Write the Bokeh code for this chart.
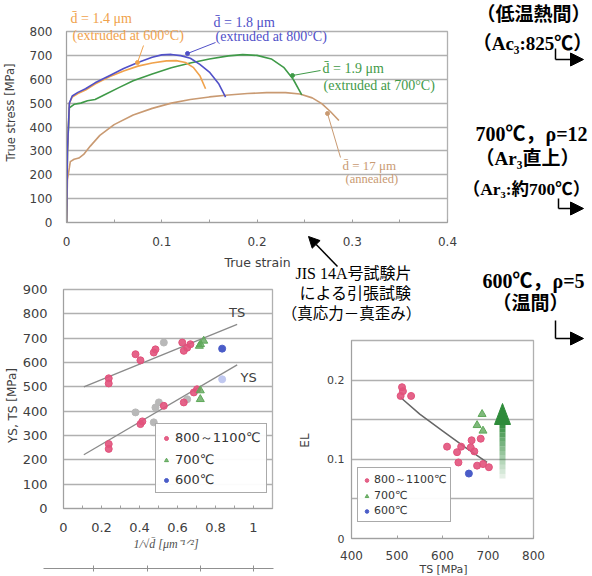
from bokeh.plotting import figure
from bokeh.models import (Range1d, FixedTicker, Label, Arrow, NormalHead, Legend, LegendItem,
                          GridBox, Column, CustomJSTickFormatter)
from bokeh.embed import file_html
from bokeh.resources import INLINE

# ---------------- data: true stress - true strain curves ----------------
strain_600 = [0, 0.001, 0.003, 0.006, 0.012, 0.02, 0.03, 0.045, 0.06, 0.075, 0.09, 0.105, 0.115, 0.125, 0.133, 0.14, 0.146]
stress_600 = [0, 300, 500, 525, 540, 555, 580, 610, 635, 655, 668, 677, 678, 670, 650, 615, 560]
strain_800 = [0, 0.001, 0.003, 0.006, 0.012, 0.02, 0.03, 0.045, 0.06, 0.075, 0.09, 0.1, 0.11, 0.12, 0.13, 0.14, 0.15, 0.16, 0.167]
stress_800 = [0, 300, 500, 530, 545, 560, 585, 615, 645, 670, 692, 702, 704, 699, 688, 662, 630, 580, 525]
strain_700 = [0, 0.001, 0.003, 0.008, 0.015, 0.022, 0.03, 0.04, 0.055, 0.07, 0.09, 0.11, 0.13, 0.15, 0.17, 0.185, 0.2, 0.215, 0.228, 0.238, 0.247]
stress_700 = [0, 300, 480, 495, 500, 510, 515, 535, 565, 594, 622, 648, 668, 685, 698, 703, 700, 685, 650, 600, 535]
strain_ann = [0, 0.001, 0.004, 0.008, 0.013, 0.018, 0.025, 0.035, 0.05, 0.07, 0.09, 0.11, 0.13, 0.15, 0.17, 0.19, 0.21, 0.23, 0.245, 0.258, 0.268, 0.277, 0.286]
stress_ann = [0, 180, 255, 265, 270, 285, 320, 365, 410, 450, 478, 500, 515, 526, 534, 540, 544, 544, 538, 522, 498, 465, 427]

# ---------------- data: YS, TS vs 1/sqrt(d) ----------------
ts_hot_x = [0.238, 0.238, 0.379, 0.405, 0.475, 0.484, 0.625, 0.633, 0.651, 0.668]
ts_hot_y = [535, 514, 634, 609, 641, 654, 682, 648, 661, 675]
ts_oth_x = [0.528]
ts_oth_y = [682]
ts_700_x = [0.715, 0.721, 0.738]
ts_700_y = [668, 675, 689]
ts_600_x = [0.835]
ts_600_y = [657]
ys_hot_x = [0.238, 0.238, 0.405, 0.415, 0.528, 0.633, 0.686, 0.703]
ys_hot_y = [265, 245, 347, 358, 422, 436, 477, 490]
ys_oth_x = [0.379, 0.475, 0.484, 0.502, 0.651]
ys_oth_y = [395, 354, 415, 436, 449]
ys_700_x = [0.72, 0.72]
ys_700_y = [485, 449]
ys_600_x = [0.835]
ys_600_y = [531]
ts_fit_x = [0.107, 0.914]
ts_fit_y = [500, 757]
ys_fit_x = [0.107, 0.914]
ys_fit_y = [221, 590]

# ---------------- data: EL vs TS ----------------
el_hot_ts = [511, 508, 531, 513, 610, 632, 635, 641, 662, 664, 670, 684, 676, 689, 702]
el_hot_el = [0.191, 0.180, 0.180, 0.186, 0.116, 0.109, 0.096, 0.116, 0.115, 0.124, 0.110, 0.126, 0.092, 0.094, 0.090]
el_700_ts = [687, 676, 689]
el_700_el = [0.157, 0.143, 0.136]
el_600_ts = [658]
el_600_el = [0.082]
el_fit_ts = [508, 550, 600, 650, 698]
el_fit_el = [0.178, 0.157, 0.136, 0.115, 0.096]

W, H = 592, 576
SANS = "DejaVu Sans"
SERIF = "Liberation Serif, Noto Sans CJK JP"
GRID = "#b0b0b0"
TICK = "#404040"
PINK = "#e2527c"
GREEN = "#5fa85a"
BLUE = "#4a5cc8"
GREY = "#b8b8b8"

fmt = CustomJSTickFormatter(code="return String(Math.round(tick*1000)/1000);")


def base(x_range, y_range, l, r, t, b, bg=True):
    p = figure(width=W, height=H, x_range=x_range, y_range=y_range, output_backend="svg",
               toolbar_location=None, min_border_left=l, min_border_right=r,
               min_border_top=t, min_border_bottom=b)
    p.border_fill_alpha = 1 if bg else 0
    p.background_fill_color = "white"
    p.outline_line_color = GRID
    p.outline_line_width = 1.3
    p.xgrid.visible = False
    p.ygrid.grid_line_color = GRID
    p.ygrid.grid_line_width = 1.3
    for ax in (p.xaxis[0], p.yaxis[0]):
        ax.axis_line_color = "#a0a0a0"
        ax.major_tick_out = 0
        ax.minor_tick_out = 0
        ax.major_tick_in = 0
        ax.minor_tick_in = 0
        ax.major_tick_line_color = "#a0a0a0"
        ax.minor_tick_line_color = "#a0a0a0"
        ax.major_label_text_color = TICK
        ax.major_label_text_font = SANS
        ax.formatter = fmt
    p.xaxis.major_tick_in = 3
    p.xaxis.minor_tick_in = 3
    return p


# ---------------- top chart ----------------
p_top = base(Range1d(0, 0.4), Range1d(0, 800), 66, 145, 31, 354, bg=True)
p_top.xaxis.ticker = FixedTicker(ticks=[0, 0.1, 0.2, 0.3, 0.4], minor_ticks=[0.05, 0.15, 0.25, 0.35])
p_top.yaxis.ticker = FixedTicker(ticks=list(range(0, 900, 100)))
p_top.xaxis.major_label_text_font_size = "12px"
p_top.yaxis.major_label_text_font_size = "12px"
p_top.xaxis.major_label_standoff = 14
p_top.yaxis.major_label_standoff = 14
p_top.line(strain_ann, stress_ann, line_color="#c99a72", line_width=1.6)
p_top.line(strain_700, stress_700, line_color="#3f9a48", line_width=1.6)
p_top.line(strain_600, stress_600, line_color="#f0a24c", line_width=1.6)
p_top.line(strain_800, stress_800, line_color="#5050c8", line_width=1.6)

# ---------------- bottom-left chart ----------------
p_ts = base(Range1d(0, 1.1), Range1d(0, 900), 63, 320, 289, 68, bg=False)
p_ts.xaxis.ticker = FixedTicker(ticks=[0, 0.2, 0.4, 0.6, 0.8, 1.0], minor_ticks=[0.1, 0.3, 0.5, 0.7, 0.9])
p_ts.yaxis.ticker = FixedTicker(ticks=list(range(0, 1000, 100)))
p_ts.xaxis.major_label_text_font_size = "13px"
p_ts.yaxis.major_label_text_font_size = "13px"
p_ts.xaxis.major_label_standoff = 14
p_ts.yaxis.major_label_standoff = 16
p_ts.line(ts_fit_x, ts_fit_y, line_color="#8a8a8a", line_width=1.3)
p_ts.line(ys_fit_x, ys_fit_y, line_color="#8a8a8a", line_width=1.3)
p_ts.scatter(ts_oth_x, ts_oth_y, marker="circle", size=7, fill_color=GREY, line_color=GREY)
p_ts.scatter(ys_oth_x, ys_oth_y, marker="circle", size=7, fill_color=GREY, line_color=GREY)
r_hot = p_ts.scatter(ts_hot_x, ts_hot_y, marker="circle", size=7, fill_color=PINK, line_color=PINK, fill_alpha=0.9)
p_ts.scatter(ys_hot_x, ys_hot_y, marker="circle", size=7, fill_color=PINK, line_color=PINK, fill_alpha=0.9)
r_700 = p_ts.scatter(ts_700_x, ts_700_y, marker="triangle", size=8, fill_color=GREEN, line_color=GREEN, fill_alpha=0.8)
p_ts.scatter(ys_700_x, ys_700_y, marker="triangle", size=8, fill_color=GREEN, line_color=GREEN, fill_alpha=0.8)
r_600 = p_ts.scatter(ts_600_x, ts_600_y, marker="circle", size=7, fill_color=BLUE, line_color=BLUE)
p_ts.scatter(ys_600_x, ys_600_y, marker="circle", size=7, fill_color="#c0c8f0", line_color="#c0c8f0")
leg1 = Legend(items=[LegendItem(label="800～1100℃", renderers=[r_hot]),
                     LegendItem(label="700℃", renderers=[r_700]),
                     LegendItem(label="600℃", renderers=[r_600])],
              location=(92, 15), label_text_font_size="13px", label_text_font=SANS,
              label_text_color="#333333", label_height=14, glyph_height=14, glyph_width=10,
              spacing=5, padding=5, margin=0, label_standoff=4,
              border_line_color="#555555", border_line_width=1, background_fill_color="white")
p_ts.add_layout(leg1)
p_ts.add_layout(Label(x=0.914, y=805, text="TS", text_font=SANS, text_font_size="13px",
                      text_color="#404040", text_align="center", text_baseline="middle"))
p_ts.add_layout(Label(x=0.974, y=538, text="YS", text_font=SANS, text_font_size="13px",
                      text_color="#404040", text_align="center", text_baseline="middle"))

# ---------------- bottom-right chart ----------------
p_el = base(Range1d(400, 800), Range1d(0, 0.25), 351, 59, 340, 38, bg=False)
p_el.xaxis.ticker = FixedTicker(ticks=[400, 500, 600, 700, 800])
p_el.yaxis.ticker = FixedTicker(ticks=[0, 0.1, 0.2], minor_ticks=[0.05, 0.15])
p_el.ygrid.minor_grid_line_color = GRID
p_el.ygrid.minor_grid_line_width = 1.3
p_el.xaxis.major_label_text_font_size = "12px"
p_el.yaxis.major_label_text_font_size = "11px"
p_el.xaxis.major_label_standoff = 12
p_el.yaxis.major_label_standoff = 7
p_el.line(el_fit_ts, el_fit_el, line_color="#666666", line_width=1.5)
e_hot = p_el.scatter(el_hot_ts, el_hot_el, marker="circle", size=7, fill_color=PINK, line_color=PINK, fill_alpha=0.9)
e_700 = p_el.scatter(el_700_ts, el_700_el, marker="triangle", size=8, fill_color=GREEN, line_color=GREEN, fill_alpha=0.8)
e_600 = p_el.scatter(el_600_ts, el_600_el, marker="circle", size=7, fill_color=BLUE, line_color=BLUE)
leg2 = Legend(items=[LegendItem(label="800～1100℃", renderers=[e_hot]),
                     LegendItem(label="700℃", renderers=[e_700]),
                     LegendItem(label="600℃", renderers=[e_600])],
              location=(6, 16), label_text_font_size="11px", label_text_font=SANS,
              label_text_color="#333333", label_height=12, glyph_height=12, glyph_width=9,
              spacing=2, padding=4, margin=0, label_standoff=3,
              border_line_color="#555555", border_line_width=1, background_fill_color="white")
p_el.add_layout(leg2)

# ---------------- overlay for annotations (page pixel coordinates) ----------------
ov = figure(width=W, height=H, x_range=Range1d(0, W), y_range=Range1d(H, 0), output_backend="svg",
            toolbar_location=None, min_border=0, x_axis_location=None, y_axis_location=None)
ov.grid.visible = False
ov.outline_line_color = None
ov.background_fill_alpha = 0
ov.border_fill_alpha = 0


def lab(x, y, text, size, color="#000000", font=SANS, style="normal", align="left", angle=0.0):
    ov.add_layout(Label(x=x, y=y, text=text, text_font=font, text_font_size=f"{size}px",
                        text_font_style=style, text_color=color, text_align=align,
                        text_baseline="middle", angle=angle))


# axis titles
lab(10, 112, "True stress [MPa]", 11.5, "#404040", align="center", angle=1.5708)
lab(257, 262, "True strain", 12.5, "#404040", align="center")
lab(12, 405, "YS, TS [MPa]", 12, "#404040", align="center", angle=1.5708)
lab(167, 543, "1/√d̄  [μm⁻¹ᐟ²]", 12, "#505050", font="Liberation Serif", style="italic", align="center")
lab(304, 440, "EL", 12, "#404040", align="center", angle=1.5708)
lab(443, 569, "TS [MPa]", 11, "#404040", align="center")

# secondary (cut) axis under the YS/TS chart
ov.line([43, 273], [568, 568], line_color="#909090", line_width=1)
ov.segment(x0=[93, 147, 200, 253], y0=[565, 565, 565, 565], x1=[93, 147, 200, 253], y1=[571, 571, 571, 571],
           line_color="#909090", line_width=1)

# curve annotations
ORG, BLU, GRN, TAN = "#f0a24c", "#5050c8", "#3f9a48", "#c99a72"
lab(70, 18, "d̄ = 1.4 μm", 14, ORG, font="Liberation Serif")
lab(72, 35, "(extruded at 600°C)", 14, ORG, font="Liberation Serif")
lab(213, 22, "d̄ = 1.8 μm", 14, BLU, font="Liberation Serif")
lab(215, 36, "(extruded at 800°C)", 14, BLU, font="Liberation Serif")
lab(322, 68, "d̄ = 1.9 μm", 14, GRN, font="Liberation Serif")
lab(323, 85, "(extruded at 700°C)", 14, GRN, font="Liberation Serif")
lab(342, 165, "d̄ = 17 μm", 13, TAN, font="Liberation Serif")
lab(345, 178, "(annealed)", 12.5, TAN, font="Liberation Serif")
for (x0, y0, x1, y1, c) in [(143, 45, 137, 62, ORG), (215, 42, 187, 53, BLU),
                            (320, 70, 292, 75, GRN), (340, 157, 327, 113, TAN)]:
    ov.line([x0, x1], [y0, y1], line_color=c, line_width=1)
    ov.scatter([x1], [y1], marker="circle", size=4, fill_color=c, line_color=c)

# right-side process notes
lab(533, 14, "（低温熱間）", 19, font=SERIF, style="bold", align="center")
lab(532, 43, "（Ac₃:825℃）", 19, font=SERIF, style="bold", align="center")
lab(531, 133, "700℃，ρ=12", 20, font=SERIF, style="bold", align="center")
lab(527, 158, "（Ar₃直上）", 19, font=SERIF, style="bold", align="center")
lab(526, 188, "（Ar₃:約700℃）", 17.5, font=SERIF, style="bold", align="center")
lab(533, 280, "600℃，ρ=5", 20, font=SERIF, style="bold", align="center")
lab(530, 303, "（温間）", 19, font=SERIF, style="bold", align="center")
for (xv, y0, y1) in [(555, 48, 59), (558, 198, 208), (555, 320, 338)]:
    ov.line([xv, xv], [y0, y1], line_color="black", line_width=1.5)
    ov.add_layout(Arrow(end=NormalHead(size=13, fill_color="black", line_color="black"),
                        x_start=xv, y_start=y1, x_end=583, y_end=y1,
                        line_color="black", line_width=1.5))

# test-piece note with arrow
lab(353, 273, "JIS 14A号試験片", 16, font=SERIF, align="center")
lab(355, 293, "による引張試験", 16, font=SERIF, align="center")
lab(351, 313, "（真応力－真歪み）", 15.5, font=SERIF, align="center")
ov.add_layout(Arrow(end=NormalHead(size=11, fill_color="black", line_color="black"),
                    x_start=337, y_start=266, x_end=308, y_end=236,
                    line_color="black", line_width=1.5))

# green gradient arrow in EL chart
n = 12
top_y, bot_y = 423, 478
step = (bot_y - top_y) / n
for i in range(n):
    ov.quad(left=499, right=505, top=top_y + i * step, bottom=top_y + (i + 1) * step,
            fill_color="#2e8b3a", fill_alpha=0.95 - i * 0.075, line_color=None)
ov.patch([494, 510, 502], [424, 424, 403], fill_color="#2e8b3a", line_color="#2e8b3a")

boxes = [Column(children=[p], width=W, height=H) for p in (p_top, p_ts, p_el, ov)]
grid = GridBox(children=[(b, 0, 0) for b in boxes], rows=f"{H}px", cols=f"{W}px", width=W, height=H)

open("out.html", "w").write(file_html(grid, INLINE))
